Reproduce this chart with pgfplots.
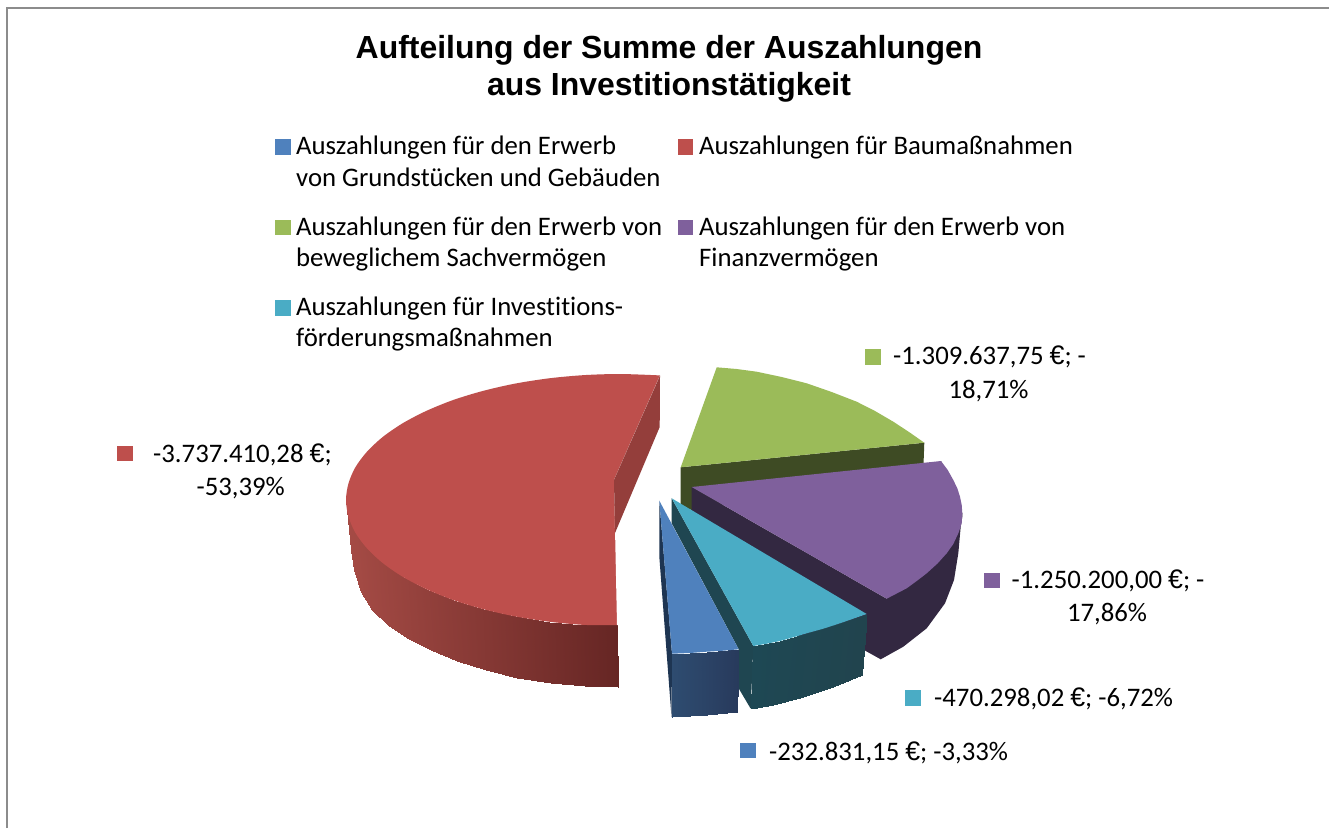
\documentclass[border=0pt]{standalone}
\usepackage{fontspec}
\usepackage{pgfplots}
\pgfplotsset{compat=1.18}
\setmainfont[Ligatures=NoCommon]{Carlito}
\newfontfamily\titlefont{Liberation Sans}
\newcommand{\eur}{{\titlefont €}}
\definecolor{cb}{HTML}{4F81BD}
\definecolor{cr}{HTML}{BE4F4C}
\definecolor{cg}{HTML}{9BBB59}
\definecolor{cp}{HTML}{7F609C}
\definecolor{ct}{HTML}{4AACC5}
\newcommand{\lab}{\fontsize{26.75}{32}\selectfont}
\tikzset{t/.style={anchor=base west,inner sep=0pt,font=\lab},
         c/.style={anchor=base,inner sep=0pt,font=\lab},
         h/.style={anchor=base,inner sep=0pt,font=\titlefont\bfseries\fontsize{31.95}{38}\selectfont}}
\begin{document}
\begin{tikzpicture}
\begin{axis}[
  width=1329pt,height=828pt,scale only axis,hide axis,
  xmin=0,xmax=1329,ymin=0,ymax=828,y dir=reverse,clip=true,
  point meta min=0,point meta max=1]
% page background fixes the picture's extent
\addplot[fill=white,draw=none,mark=none] coordinates {(0,0)(1329,0)(1329,828)(0,828)} -- cycle;
% frame
\addplot[draw=black!45,line width=1.6pt,mark=none] coordinates {(7,828)(7,8)(1329,8)};
% green
\addplot[fill=cg!40!black,draw=none,mark=none] coordinates {(680.7,467.3)(924.3,442.7)(923.3,470)(691.7,510)(680.7,507)} -- cycle;
\addplot[fill=cg,draw=none,mark=none] coordinates {(716.7,367.3)(736.7,369)(756.7,371.7)(781.7,377)(806.7,383.3)(831.7,392)(856.7,401.7)(875,411)(893.3,421.7)(909,432)(924.3,442.7)(680.7,467.3)} -- cycle;
% red wall
\addplot[surf,shader=interp,mesh/rows=2,point meta=explicit,
  colormap={redwall}{rgb255=(165,75,69) rgb255=(102,38,36)}] table[meta=c] {
x y c
346 500 0
348.4 516.4 0.01
355.3 532.6 0.03
366.9 548.2 0.08
382.7 563 0.14
402.6 576.7 0.21
426.3 589.1 0.30
453.2 600 0.40
483 609.1 0.50
515.1 616.4 0.62
549.1 621.7 0.75
584.2 624.9 0.88
617 625 1

351 550 0
354 570 0.01
361 592 0.03
372.4 609.8 0.08
388 624.5 0.14
407 638 0.21
430.5 650.4 0.30
457 661 0.40
486 670 0.50
517.4 677.5 0.62
550.6 683 0.75
585 686 0.88
618 687 1
};
% red top: smooth rim filled to its chord, then the notch cleared
\addplot[smooth,fill=cr,draw=none,mark=none] coordinates {(660,375.4)(620,374)(584.2,375.1)(549.1,378.3)(515.1,383.6)(483,390.9)(453.2,400)(426.3,410.9)(402.6,423.3)(382.7,437)(366.9,451.8)(355.3,467.4)(348.4,483.6)(346,500)(348.4,516.4)(355.3,532.6)(366.9,548.2)(382.7,563)(402.6,576.7)(426.3,589.1)(453.2,600)(483,609.1)(515.1,616.4)(549.1,621.7)(584.2,624.9)(617,625)};
\addplot[fill=white,draw=none,mark=none] coordinates {(660,375.4)(664,375)(621,625.5)(617,625)(614,480)} -- cycle;
\addplot[fill=cr!78!black,draw=none,mark=none] coordinates {(660,375.7)(659.7,427)(615,533)(614,480)} -- cycle;
% purple
\addplot[fill={rgb,255:red,51;green,40;blue,65},draw=none,mark=none] coordinates {(691.7,487)(886.7,598.7)(941,461)(962.3,513.3)(962.3,516.7)(960.7,526.7)(958.3,553.3)(954,580)(945,603.3)(926.7,628.3)(903.3,646.7)(880.7,659.3)(864,650)(800,640)(691.7,511)} -- cycle;
\addplot[fill=cp,draw=none,mark=none] coordinates {(691.7,487)(886.7,598.7)(906.7,588.3)(916.7,581)(926.7,573.3)(937.7,563.3)(946.7,553.3)(953.3,544)(958.3,533.3)(961.7,523.3)(962.3,513.3)(961.7,505)(960,496.7)(957.3,488.3)(953.3,480)(947.7,470)(941,461)} -- cycle;
% teal
\addplot[fill={rgb,255:red,31;green,70;blue,81},draw=none,mark=none] coordinates {(671.7,498.3)(671.7,523.3)(738.7,649.3)(736.7,685)(750.7,708.7)(753.3,646)} -- cycle;
\addplot[surf,shader=interp,mesh/rows=2,point meta=explicit,
  colormap={tealwall}{rgb255=(30,72,84) rgb255=(33,68,78)}] table[meta=c] {
x y c
753.3 646 0
780 641 0.25
806.7 633.3 0.5
840 623.3 0.8
866.7 614 1

750.7 708.7 0
773.3 705 0.25
800 698.3 0.5
833.3 686.7 0.8
861.7 675 1
};
\addplot[fill=ct,draw=none,mark=none] coordinates {(671.7,498.3)(866.7,614)(853.3,618.7)(840,623.3)(823.3,628.7)(806.7,633.3)(793.3,637.3)(780,641)(766.7,643.7)(753.3,646)} -- cycle;
% blue
\addplot[fill={rgb,255:red,30;green,53;blue,82},draw=none,mark=none] coordinates {(659.3,500.7)(659.3,556.7)(671.5,717)(672,653.7)} -- cycle;
\addplot[surf,shader=interp,mesh/rows=2,point meta=explicit,
  colormap={bluewall}{rgb255=(46,76,112) rgb255=(40,58,92)}] table[meta=c] {
x y c
672 653.7 0
706.7 651.7 0.5
738.7 649.3 1

671.7 717 0
706.7 715 0.5
736.7 711.7 1
};
\addplot[fill=cb,draw=none,mark=none] coordinates {(659.3,500.7)(738.7,649.3)(723.3,650.7)(706.7,651.7)(690,653)(672,653.7)} -- cycle;
% swatches
\addplot[only marks,mark=square*,mark size=7.3pt,color=cb] coordinates {(282.5,146.7)};
\addplot[only marks,mark=square*,mark size=7.3pt,color=cr] coordinates {(685,146.7)};
\addplot[only marks,mark=square*,mark size=7.3pt,color=cg] coordinates {(282.5,227.3)};
\addplot[only marks,mark=square*,mark size=7.3pt,color=cp] coordinates {(685,227.3)};
\addplot[only marks,mark=square*,mark size=7.3pt,color=ct] coordinates {(282.5,307.5)};
\addplot[only marks,mark=square*,mark size=7.3pt,color=cg] coordinates {(872.5,356.7)};
\addplot[only marks,mark=square*,mark size=7.3pt,color=cr] coordinates {(124.7,453.3)};
\addplot[only marks,mark=square*,mark size=7.3pt,color=cp] coordinates {(991.7,580)};
\addplot[only marks,mark=square*,mark size=7.3pt,color=ct] coordinates {(912.5,697.5)};
\addplot[only marks,mark=square*,mark size=7.3pt,color=cb] coordinates {(747.5,750.2)};
% title
\node[h] at (axis cs:669,58.3) {Aufteilung der Summe der Auszahlungen};
\node[h] at (axis cs:669,95) {aus Investitionstätigkeit};
% legend
\node[t] at (axis cs:296,154.3) {Auszahlungen für den Erwerb};
\node[t] at (axis cs:296,186.7) {von Grundstücken und Gebäuden};
\node[t] at (axis cs:699,154.3) {Auszahlungen für Baumaßnahmen};
\node[t] at (axis cs:296,235) {Auszahlungen für den Erwerb von};
\node[t] at (axis cs:296,266.7) {beweglichem Sachvermögen};
\node[t] at (axis cs:699,235) {Auszahlungen für den Erwerb von};
\node[t] at (axis cs:699,266.7) {Finanzvermögen};
\node[t] at (axis cs:296,315) {Auszahlungen für Investitions-};
\node[t] at (axis cs:296,346.7) {förderungsmaßnahmen};
% data labels
\node[t] at (axis cs:893,364.3) {-1.309.637,75 \eur; -};
\node[c] at (axis cs:988.5,398.3) {18,71\%};
\node[t] at (axis cs:153,462.3) {-3.737.410,28 \eur;};
\node[c] at (axis cs:240.7,495) {-53,39\%};
\node[t] at (axis cs:1011.5,588.7) {-1.250.200,00 \eur; -};
\node[c] at (axis cs:1107,621.5) {17,86\%};
\node[t] at (axis cs:934,706.7) {-470.298,02 \eur; -6,72\%};
\node[t] at (axis cs:769,760) {-232.831,15 \eur; -3,33\%};
\end{axis}
\end{tikzpicture}
\end{document}
